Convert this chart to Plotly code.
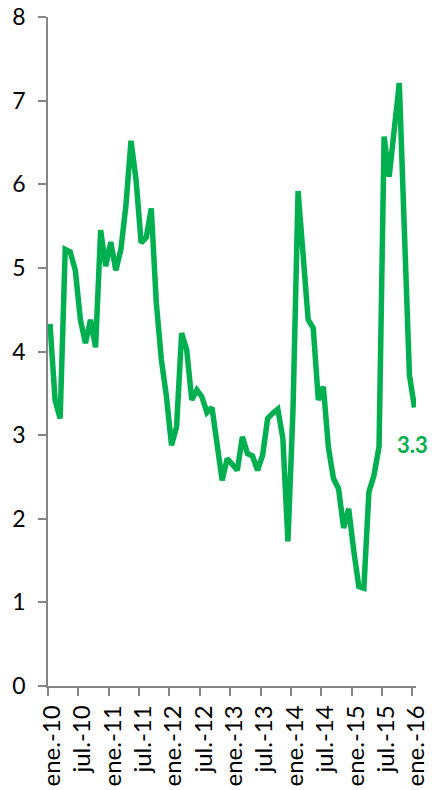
import plotly.graph_objects as go

# Monthly values, ene.-10 .. ene.-16
values = [
    4.33, 3.42, 3.20, 5.22, 5.19, 4.97, 4.38, 4.10, 4.38, 4.05, 5.45, 5.02,   # 2010
    5.31, 4.97, 5.22, 5.75, 6.52, 6.05, 5.30, 5.36, 5.71, 4.58, 3.90, 3.46,   # 2011
    2.88, 3.10, 4.22, 4.02, 3.42, 3.54, 3.46, 3.27, 3.33, 2.86, 2.46, 2.72,   # 2012
    2.66, 2.58, 2.98, 2.78, 2.75, 2.58, 2.76, 3.20, 3.26, 3.31, 2.96, 1.73,   # 2013
    3.30, 5.92, 5.15, 4.38, 4.28, 3.42, 3.58, 2.85, 2.48, 2.36, 1.89, 2.12,   # 2014
    1.62, 1.19, 1.17, 2.32, 2.52, 2.86, 6.57, 6.09, 6.65, 7.21, 5.45, 3.72,   # 2015
    3.33,                                                                       # 2016
]
tick_labels = ["ene.-10", "jul.-10", "ene.-11", "jul.-11", "ene.-12", "jul.-12",
               "ene.-13", "jul.-13", "ene.-14", "jul.-14", "ene.-15", "jul.-15",
               "ene.-16"]
tick_step = 6

x = list(range(len(values)))
tickvals = [i * tick_step - 0.4 for i in range(len(tick_labels))]

GREEN = "#00B050"
AXIS = "#868686"
FONT = "Lato"

fig = go.Figure(
    go.Scatter(x=x, y=values, mode="lines",
               line=dict(color=GREEN, width=5.5),
               hoverinfo="skip", showlegend=False)
)

fig.add_annotation(x=x[-1], y=values[-1], text=f"<b>{values[-1]:.1f}</b>",
                   showarrow=False, xanchor="center", yanchor="middle",
                   yshift=-37, xshift=-2,
                   font=dict(family=FONT, size=22, color=GREEN))

fig.update_layout(
    width=432, height=790,
    margin=dict(l=48, r=16, t=17, b=104, autoexpand=False),
    paper_bgcolor="white", plot_bgcolor="white",
    showlegend=False,
)
fig.update_xaxes(
    range=[-0.4, 72.3], tickmode="array", tickvals=tickvals, ticktext=tick_labels,
    tickangle=-90, ticks="outside", ticklen=8, tickcolor=AXIS, tickwidth=1.5,
    showline=True, linecolor=AXIS, linewidth=1.5, automargin=False,
    showgrid=False, zeroline=False, ticklabelshift=4,
    tickfont=dict(family=FONT, size=24, color="black"),
)
fig.update_yaxes(
    range=[0, 8], dtick=1, ticks="outside", ticklen=8, tickcolor=AXIS, tickwidth=1.5,
    showline=True, linecolor=AXIS, linewidth=1.5, automargin=False,
    showgrid=False, zeroline=False, ticklabelstandoff=8,
    tickfont=dict(family=FONT, size=23, color="black"),
)

fig.write_html("out.html",
               config={"displayModeBar": False},
               post_script="document.body.style.margin='0';document.body.style.overflow='hidden';")
